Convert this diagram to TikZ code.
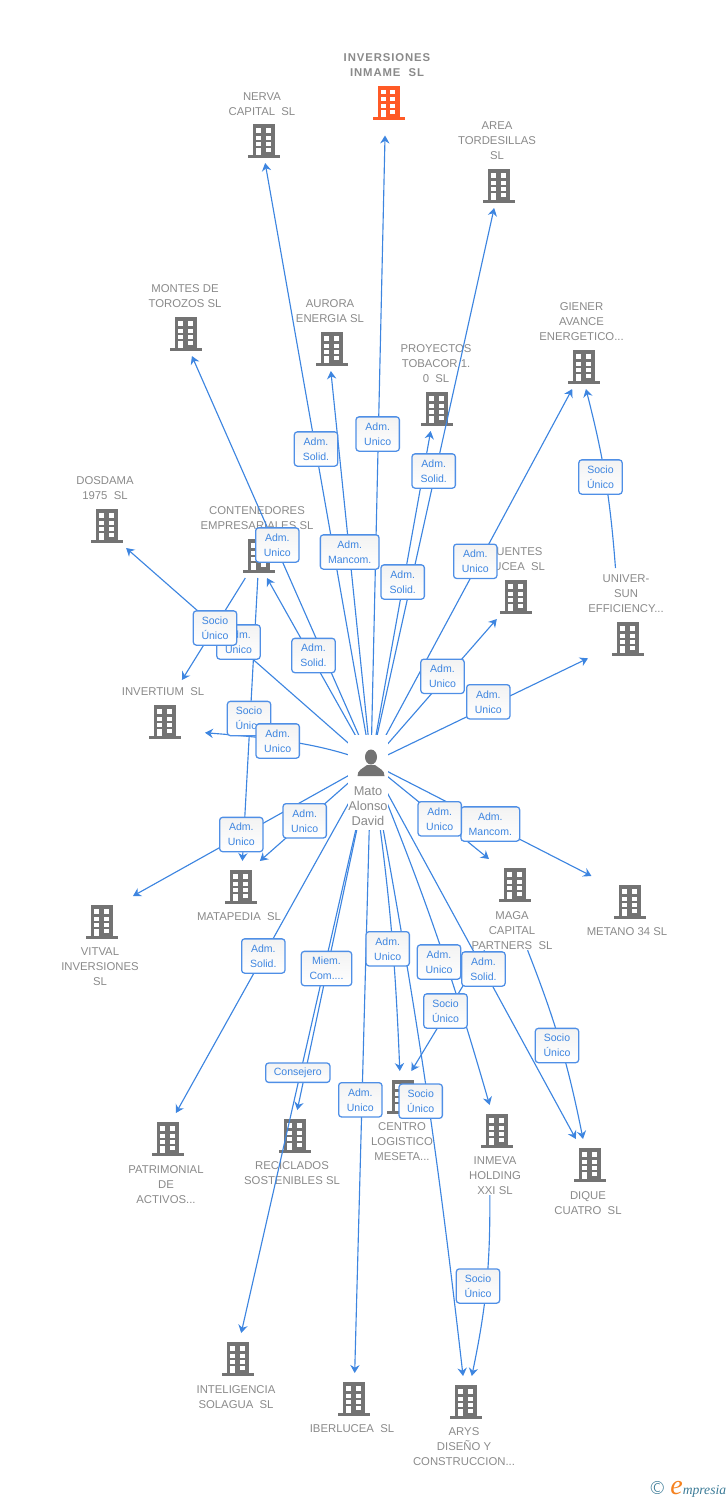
\documentclass[tikz,border=0pt]{standalone}
\usepackage{fontspec}
\setmainfont{Liberation Sans}
\newfontfamily\wmfont{Liberation Serif}
\newfontfamily\rootfont[LetterSpace=8]{Liberation Sans}
\usetikzlibrary{arrows.meta}
\definecolor{linkblue}{HTML}{3D85E0}
\definecolor{boxblue}{HTML}{4F8FE6}
\definecolor{iconfill}{HTML}{737373}
\definecolor{lblgray}{HTML}{8A8A8A}
\definecolor{rootfill}{HTML}{FF5A26}
\definecolor{markteal}{HTML}{3A7A96}
\definecolor{markorange}{HTML}{F58220}
\tikzset{
  link/.style={linkblue, line width=0.85pt, -{Stealth[length=6pt,width=7pt,inset=2pt]}},
  cotop/.style={inner sep=0pt, outer sep=0pt, minimum width=60pt, minimum height=33pt},
  cobot/.style={inner sep=0pt, outer sep=0pt, minimum width=60pt, minimum height=39pt},
  colbl/.style={lblgray, align=center, inner sep=0pt, font=\fontsize{8.5}{11.25}\selectfont},
  tag/.style={draw=boxblue, line width=0.95pt, rounded corners=2.2pt, top color=black!5, bottom color=white,
    text=linkblue, align=center, inner sep=0pt, minimum width=32.5pt, minimum height=25.7pt,
    font=\fontsize{7.9}{11.25}\selectfont},
  tagwide/.style={tag, minimum width=44pt},
  pics/bldg/.style={code={
    \fill (-11,-17) rectangle (11,15);
    \fill (-16,14) rectangle (16,17);
    \foreach \wy in {-12.7,-5.5,1.2}{
      \fill[white] (-8,\wy) rectangle (-3,\wy+4.2);
      \fill[white] (1.8,\wy) rectangle (6.8,\wy+4.2);
    }
    \fill[white] (-8,7) rectangle (-3,14);
    \fill[white] (1.8,7) rectangle (6.8,11.4);
  }},
  pics/person/.style={code={
    \fill (0,-6) ellipse [x radius=6, y radius=7.5];
    \fill (-13.5,13) .. controls (-13.5,7) and (-9,6) .. (-4,2) -- (4,2) .. controls (9,6) and (13.5,7) .. (13.5,13) -- cycle;
  }}
}

\begin{document}
\begin{tikzpicture}[x=0.75pt,y=-0.75pt]
  \useasboundingbox (0,0) rectangle (728,1500);

  % EMPRESAS
  \node[cotop, minimum height=49.5pt] (inversiones) at (388.5,102.5) {};
  \node[cotop] (nerva) at (264,141) {};
  \node[cotop] (area) at (499,186) {};
  \node[cotop] (montes) at (186,334) {};
  \node[cotop] (aurora) at (332,349) {};
  \node[cotop] (proyectos) at (437,409) {};
  \node[cotop] (giener) at (584,367) {};
  \node[cotop] (dosdama) at (107,526) {};
  \node[cotop] (contenedores) at (259,556) {};
  \node[cotop] (fuentes) at (516,597) {};
  \node[cotop, minimum height=106.5pt] (univer) at (628,639) {};
  \node[cotop, minimum height=63pt] (invertium) at (165,722) {};
  \node[cobot] (matapedia) at (241,887) {};
  \node[cobot] (maga) at (515,885) {};
  \node[cobot] (metano) at (630,902) {};
  \node[cobot] (vitval) at (102,922) {};
  \node[cobot] (patrimonial) at (168,1139) {};
  \node[cobot] (reciclados) at (295,1136) {};
  \node[cobot] (centro) at (403,1097) {};
  \node[cobot] (inmeva) at (497,1131) {};
  \node[cobot] (dique) at (590,1165) {};
  \node[cobot] (inteligencia) at (238,1359) {};
  \node[cobot] (iberlucea) at (354,1399) {};
  \node[cobot] (arys) at (466,1402) {};

  \foreach \co in {nerva,area,montes,aurora,proyectos,giener,dosdama,contenedores,fuentes,univer,invertium,
    matapedia,maga,metano,vitval,patrimonial,reciclados,centro,inmeva,dique,inteligencia,iberlucea,arys}
    \pic[iconfill] at (\co) {bldg};
  \pic[rootfill] at (inversiones) {bldg};

  % NOMBRES
  \node[colbl, font=\fontsize{8.5}{11.25}\rootfont\bfseries] (inversiones-lbl) at (387,65) {INVERSIONES\\INMAME\ \ SL};
  \node[colbl] (nerva-lbl) at (262,104.5) {NERVA\\CAPITAL\ \ SL};
  \node[colbl] (area-lbl) at (497,141) {AREA\\TORDESILLAS\\SL};
  \node[colbl] (montes-lbl) at (185,296.5) {MONTES DE\\TOROZOS SL};
  \node[colbl] (aurora-lbl) at (330,311.5) {AURORA\\ENERGIA SL};
  \node[colbl] (proyectos-lbl) at (436,364) {PROYECTOS\\TOBACOR 1.\\0\ \ SL};
  \node[colbl] (giener-lbl) at (581.5,322) {GIENER\\AVANCE\\ENERGETICO...};
  \node[colbl] (dosdama-lbl) at (105,488.5) {DOSDAMA\\1975\ \ SL};
  \node[colbl] (contenedores-lbl) at (257,518.5) {CONTENEDORES\\EMPRESARIALES SL};
  \node[colbl] (fuentes-lbl) at (516,559.5) {FUENTES\\LUCEA\ \ SL};
  \node[colbl] (univer-lbl) at (626,594) {UNIVER-\\SUN\\EFFICIENCY...};
  \node[colbl] (invertium-lbl) at (163,692) {INVERTIUM\ \ SL};
  \node[colbl] (matapedia-lbl) at (239,917) {MATAPEDIA\ \ SL};
  \node[colbl] (maga-lbl) at (512,931) {MAGA\\CAPITAL\\PARTNERS\ \ SL};
  \node[colbl] (metano-lbl) at (627,932) {METANO 34 SL};
  \node[colbl] (vitval-lbl) at (100,967) {VITVAL\\INVERSIONES\\SL};
  \node[colbl] (patrimonial-lbl) at (166,1185) {PATRIMONIAL\\DE\\ACTIVOS...};
  \node[colbl] (reciclados-lbl) at (292,1173.5) {RECICLADOS\\SOSTENIBLES SL};
  \node[colbl] (centro-lbl) at (402,1142) {CENTRO\\LOGISTICO\\MESETA...};
  \node[colbl] (inmeva-lbl) at (495,1176) {INMEVA\\HOLDING\\XXI SL};
  \node[colbl] (dique-lbl) at (588,1203.5) {DIQUE\\CUATRO\ \ SL};
  \node[colbl] (inteligencia-lbl) at (236,1397.5) {INTELIGENCIA\\SOLAGUA\ \ SL};
  \node[colbl] (iberlucea-lbl) at (352,1429) {IBERLUCEA\ \ SL};
  \node[colbl] (arys-lbl) at (464,1447) {ARYS\\DISEÑO Y\\CONSTRUCCION...};

  % CONEXIONES
  \node[inner sep=0pt, outer sep=0pt] (mato) at (371,763) {};
  \draw[link] (mato) -- (nerva.273);
  \draw[link] (mato) -- (aurora.267);
  \draw[link] (mato) -- (inversiones.264);
  \draw[link] (mato) -- (proyectos.254);
  \draw[link] (mato) -- (area);
  \draw[link] (mato) -- (giener);
  \draw[link] (mato) -- (fuentes);
  \draw[link] (mato) -- (univer);
  \draw[link] (mato) -- (metano.146);
  \draw[link] (mato) -- (maga.135);
  \draw[link] (mato) -- (dique);
  \draw[link] (mato) to[bend left=3] (inmeva);
  \draw[link] (mato) to[bend left=3] (centro.97);
  \draw[link] (mato) to[bend left=2] (arys);
  \draw[link] (mato) -- (iberlucea);
  \draw[link] (mato) -- (reciclados.85);
  \draw[link] (mato) -- (inteligencia.83);
  \draw[link] (mato) -- (patrimonial.73);
  \draw[link] (mato) -- (vitval.40);
  \draw[link] (mato) -- (matapedia.54);
  \draw[link] (mato) .. controls (320,742) and (260,737) .. (invertium.345);
  \draw[link] (mato) -- (contenedores.290);
  \draw[link] (mato) -- (montes.285);
  \draw[link] (mato) -- (dosdama.311);
  \draw[link] (contenedores) -- (invertium.68);
  \draw[link] (contenedores) -- (matapedia);
  \draw[link] (univer.100) to[bend right=5] (giener.275);
  \draw[link] (maga-lbl.309) to[bend left=5] (dique.105);
  \draw[link] (maga-lbl.215) -- (centro.72);
  \draw[link] (inmeva-lbl.255) to[bend left=6] (arys);

  % PERSONA
  \node[fill=white, inner sep=0pt, minimum width=30pt, minimum height=71.25pt] (mato-box) at (368,782.5) {};
  \pic[iconfill] at (mato) {person};
  \node[colbl, font=\fontsize{9.6}{11.25}\selectfont] (mato-lbl) at (368,806) {Mato\\Alonso\\David};

  % CARGOS
  \node[tag] (t-nerva) at (316,449) {Adm.\\Solid.};
  \node[tag] (t-inversiones) at (377.7,434) {Adm.\\Unico};
  \node[tag] (t-area) at (433.7,471) {Adm.\\Solid.};
  \node[tag] (t-montes) at (277.3,545) {Adm.\\Unico};
  \node[tagwide] (t-aurora) at (349.7,552) {Adm.\\Mancom.};
  \node[tag] (t-proyectos) at (402.7,582) {Adm.\\Solid.};
  \node[tag] (t-giener) at (475.3,561.3) {Adm.\\Unico};
  \node[tag] (t-dosdama) at (238.5,642) {Adm.\\Unico};
  \node[tag] (t-invertium2) at (215,628) {Socio\\Único};
  \node[tag] (t-contenedores) at (313.5,655.5) {Adm.\\Solid.};
  \node[tag] (t-fuentes) at (442.5,676.3) {Adm.\\Unico};
  \node[tag] (t-univer) at (488.3,701.8) {Adm.\\Unico};
  \node[tag] (t-matapedia2) at (249,718.5) {Socio\\Único};
  \node[tag] (t-invertium) at (277.7,741) {Adm.\\Unico};
  \node[tag] (t-vitval) at (241.3,834.5) {Adm.\\Unico};
  \node[tag] (t-matapedia) at (304.7,820.8) {Adm.\\Unico};
  \node[tagwide] (t-metano) at (490.3,824) {Adm.\\Mancom.};
  \node[tag] (t-maga) at (439.7,818.8) {Adm.\\Unico};
  \node[tag] (t-patrimonial) at (263.3,956) {Adm.\\Solid.};
  \node[tag, minimum width=37.8pt] (t-reciclados) at (326.5,968.5) {Miem.\\Com....};
  \node[tag] (t-centro) at (387.7,948.8) {Adm.\\Unico};
  \node[tag] (t-inmeva) at (439,962) {Adm.\\Unico};
  \node[tag] (t-dique) at (483.5,969) {Adm.\\Solid.};
  \node[tag] (t-centro2) at (445.5,1011) {Socio\\Único};
  \node[tag] (t-dique2) at (557,1045.5) {Socio\\Único};
  \node[tag, minimum width=48.2pt, minimum height=14.5pt] (t-inteligencia) at (297.8,1072.7) {Consejero};
  \node[tag] (t-iberlucea) at (360.3,1099.8) {Adm.\\Unico};
  \node[tag] (t-arys) at (420.7,1101.2) {Socio\\Único};
  \node[tag] (t-univer2) at (600.5,477) {Socio\\Único};
  \node[tag] (t-arys2) at (478,1286) {Socio\\Único};

  % MARCA
  \node[anchor=base west, inner sep=0pt, font=\wmfont\itshape\fontsize{10.2}{12}\selectfont] (marca) at (650.5,1494)
    {{\upshape\sffamily\color{markteal}\fontsize{14}{12}\selectfont ©}\kern5pt{\color{markorange}\fontsize{21}{12}\selectfont e}{\color{markteal}mpresia}};
\end{tikzpicture}
\end{document}
